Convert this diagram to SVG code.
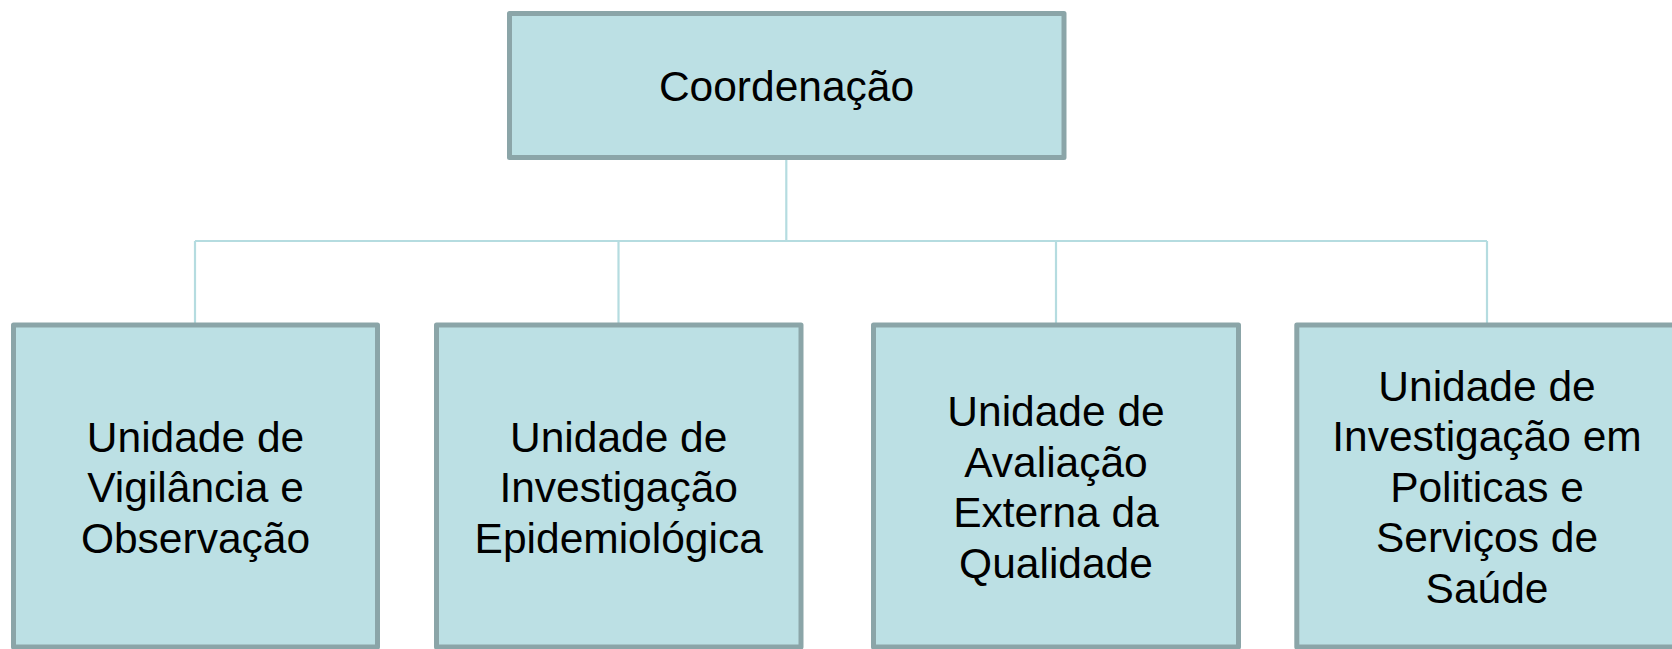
<svg xmlns="http://www.w3.org/2000/svg" width="1672" height="649" viewBox="0 0 1672 649">
<style>
.box{fill:#BCE0E4;stroke:#8BA5A8;stroke-width:5;stroke-linejoin:round}
.lbl{font-family:"Liberation Sans",Arial,sans-serif;font-size:42.5px;fill:#000;text-anchor:middle}
.conn{fill:none;stroke:#B5DCE0;stroke-width:2.2}
</style>
<rect width="1672" height="649" fill="#fff"/>
<g id="connectors">
<path class="conn" d="M786.3 158V241 M195 241H1487 M195 241V325 M618.5 241V325 M1056 241V325 M1487 241V325"/>
</g>
<g id="coordenacao">
<rect class="box" x="509.5" y="13.5" width="554.5" height="144"/>
<text class="lbl" x="786.5" y="100.5">Coordenação</text>
</g>
<g id="vigilancia">
<rect class="box" x="13.5" y="325" width="364" height="322"/>
<text class="lbl" x="195.5" y="451.5">Unidade de</text>
<text class="lbl" x="195.5" y="502">Vigilância e</text>
<text class="lbl" x="195.5" y="552.5">Observação</text>
</g>
<g id="epidemiologica">
<rect class="box" x="436.5" y="325" width="364.5" height="322"/>
<text class="lbl" x="618.7" y="451.5">Unidade de</text>
<text class="lbl" x="618.7" y="502">Investigação</text>
<text class="lbl" x="618.7" y="552.5">Epidemiológica</text>
</g>
<g id="qualidade">
<rect class="box" x="873.5" y="325" width="365" height="322"/>
<text class="lbl" x="1056" y="426.3">Unidade de</text>
<text class="lbl" x="1056" y="476.8">Avaliação</text>
<text class="lbl" x="1056" y="527.3">Externa da</text>
<text class="lbl" x="1056" y="577.8">Qualidade</text>
</g>
<g id="politicas">
<rect class="box" x="1296.8" y="325" width="380" height="322"/>
<text class="lbl" x="1487" y="400.5">Unidade de</text>
<text class="lbl" x="1487" y="451.2">Investigação em</text>
<text class="lbl" x="1487" y="501.8">Politicas e</text>
<text class="lbl" x="1487" y="552.4">Serviços de</text>
<text class="lbl" x="1487" y="603">Saúde</text>
</g>
</svg>
